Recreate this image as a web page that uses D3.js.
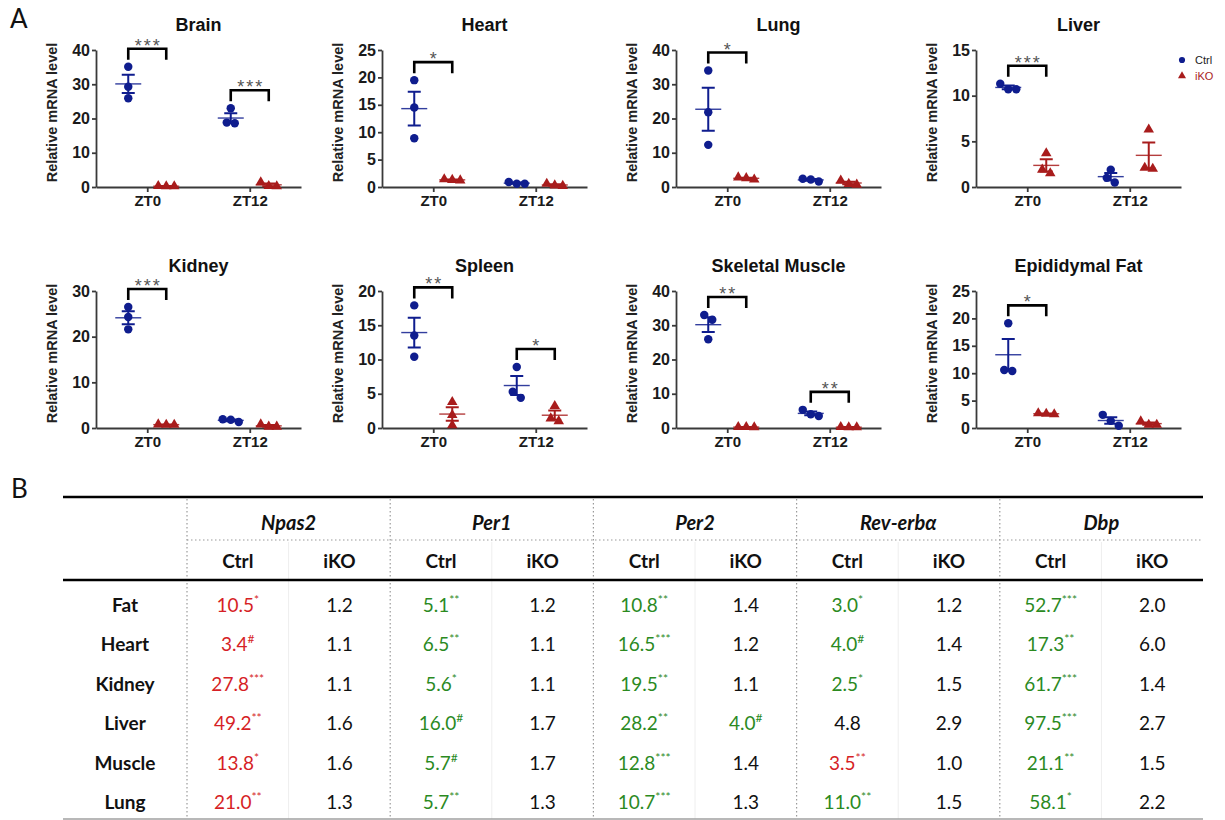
<!DOCTYPE html>
<html>
<head>
<meta charset="utf-8">
<script src="https://cdn.jsdelivr.net/npm/d3@7"></script>
<style>
body { margin: 0; background: #fff; }
svg { display: block; }
</style>
</head>
<body>
<svg id="fig" width="1225" height="820"></svg>
<script>
// ---- panel A: qPCR per tissue ----
let organs = ["Brain", "Heart", "Lung", "Liver", "Kidney", "Spleen", "Skeletal Muscle", "Epididymal Fat"]
let timepoints = ["ZT0", "ZT12"]
let groups = ["Ctrl", "iKO"]
let yMax = [40, 25, 40, 15, 30, 20, 40, 25]
let yStep = [10, 5, 10, 5, 10, 5, 10, 5]

// three mice per group, [ZT0, ZT12]
let ctrlValues = [
    [[35.1, 29.3, 25.9], [23.0, 18.8, 18.6]],
    [[19.5, 14.5, 8.9], [0.6, 0.9, 0.6]],
    [[34.0, 21.8, 12.3], [2.4, 1.6, 2.2]],
    [[11.3, 10.7, 10.7], [1.9, 1.0, 0.5]],
    [[26.5, 24.3, 21.6], [1.9, 1.3, 1.8]],
    [[17.9, 13.5, 10.4], [8.9, 5.3, 4.4]],
    [[33.0, 31.6, 25.9], [5.3, 3.5, 4.0]],
    [[19.1, 10.6, 10.4], [2.4, 1.3, 0.4]]
]
let ikoValues = [
    [[0.2, 0.2, 0.3], [1.4, 0.3, 0.2]],
    [[1.3, 1.4, 1.2], [0.6, 0.3, 0.2]],
    [[2.8, 2.2, 2.6], [1.9, 0.9, 0.7]],
    [[3.7, 1.9, 1.5], [6.3, 2.0, 2.1]],
    [[0.8, 0.7, 0.7], [0.8, 0.3, 0.3]],
    [[3.8, 1.9, 0.4], [3.2, 1.4, 1.0]],
    [[0.3, 0.2, 0.3], [0.3, 0.2, 0.2]],
    [[2.6, 2.7, 2.5], [1.2, 0.6, 0.6]]
]
let sigMarks = [
    ["***", "***"], ["*", ""], ["*", ""], ["***", ""],
    ["***", ""], ["**", "*"], ["**", "**"], ["*", ""]
]

// ---- panel B: fold change table ----
let tissues = ["Fat", "Heart", "Kidney", "Liver", "Muscle", "Lung"]
let genes = ["Npas2", "Per1", "Per2", "Rev-erbα", "Dbp"]
let ctrlFold = [
    ["10.5*", "3.4#", "27.8***", "49.2**", "13.8*", "21.0**"],
    ["5.1**", "6.5**", "5.6*", "16.0#", "5.7#", "5.7**"],
    ["10.8**", "16.5***", "19.5**", "28.2**", "12.8***", "10.7***"],
    ["3.0*", "4.0#", "2.5*", "4.8", "3.5**", "11.0**"],
    ["52.7***", "17.3**", "61.7***", "97.5***", "21.1**", "58.1*"]
]
let ikoFold = [
    ["1.2", "1.1", "1.1", "1.6", "1.6", "1.3"],
    ["1.2", "1.1", "1.1", "1.7", "1.7", "1.3"],
    ["1.4", "1.2", "1.1", "4.0#", "1.4", "1.3"],
    ["1.2", "1.4", "1.5", "2.9", "1.0", "1.5"],
    ["2.0", "6.0", "1.4", "2.7", "1.5", "2.2"]
]
// r = up (red), g = down (green), n = not changed
let ctrlTone = [
    ["r", "r", "r", "r", "r", "r"],
    ["g", "g", "g", "g", "g", "g"],
    ["g", "g", "g", "g", "g", "g"],
    ["g", "g", "g", "n", "r", "g"],
    ["g", "g", "g", "g", "g", "g"]
]
let ikoTone = [
    ["n", "n", "n", "n", "n", "n"],
    ["n", "n", "n", "n", "n", "n"],
    ["n", "n", "n", "g", "n", "n"],
    ["n", "n", "n", "n", "n", "n"],
    ["n", "n", "n", "n", "n", "n"]
]

let blue = '#0f1d8e'
let red = '#a81c1c'
let toneColor = { r: '#d61f26', g: '#2b8a1f', n: '#111' }
let chartFont = '"Liberation Sans", Arial, sans-serif'
let tableFont = 'Lato, "Open Sans", sans-serif'

let svg = d3.select('#fig')

let colLeft = [96, 382, 676, 976]
let rowTop = [50, 291]
let plotW = 205
let plotH = 137

// spread points sideways when they would overlap
let dodge = (vals, y) => {
    let order = vals.map((v, k) => k).sort((a, b) => vals[b] - vals[a])
    let offs = vals.map(() => 0)
    let cluster = [order[0]]
    let flush = () => {
        cluster.forEach((k, j) => { offs[k] = (j - (cluster.length - 1) / 2) * 8 })
    }
    for (let j = 1; j < order.length; j++) {
        if (Math.abs(y(vals[order[j]]) - y(vals[order[j - 1]])) < 8) {
            cluster.push(order[j])
        } else {
            flush()
            cluster = [order[j]]
        }
    }
    flush()
    return offs
}

organs.forEach((organ, i) => {
    let left = colLeft[i % 4]
    let top = rowTop[Math.floor(i / 4)]
    let g = svg.append('g').attr('transform', 'translate(' + left + ',' + top + ')')

    let x = d3.scalePoint().domain(timepoints).range([0, plotW]).padding(0.5)
    let xg = d3.scalePoint().domain(groups).range([-19, 19])
    let y = d3.scaleLinear().domain([0, yMax[i]]).range([plotH, 0])

    // axes
    let yAxis = g.append('g')
        .call(d3.axisLeft(y)
            .tickValues(d3.range(0, yMax[i] + yStep[i] / 2, yStep[i]))
            .tickSize(4).tickSizeOuter(0).tickPadding(2))
    let xAxis = g.append('g')
        .attr('transform', 'translate(0,' + plotH + ')')
        .call(d3.axisBottom(x).tickSize(5).tickSizeOuter(0).tickPadding(3))

    yAxis.selectAll('text').style('font', 'bold 16px ' + chartFont).attr('fill', '#1a1a1a')
    xAxis.selectAll('text').style('font', 'bold 15px ' + chartFont).attr('fill', '#1a1a1a')
    g.selectAll('.domain, .tick line').attr('stroke', '#3a3a3a').attr('stroke-width', 1.8)

    g.append('text')
        .attr('x', plotW / 2)
        .attr('y', -19)
        .attr('text-anchor', 'middle')
        .style('font', 'bold 18px ' + chartFont)
        .attr('fill', '#111')
        .text(organ)

    g.append('text')
        .attr('transform', 'translate(-39,' + (plotH / 2 - 6) + ') rotate(-90)')
        .attr('text-anchor', 'middle')
        .style('font', 'bold 14.5px ' + chartFont)
        .attr('fill', '#222')
        .text('Relative mRNA level')

    timepoints.forEach((tp, t) => {
        let sets = [
            { grp: 'Ctrl', vals: ctrlValues[i][t], color: blue },
            { grp: 'iKO', vals: ikoValues[i][t], color: red }
        ]
        sets.forEach((s) => {
            let cx = x(tp) + xg(s.grp)
            let mean = d3.mean(s.vals)
            let sem = d3.deviation(s.vals) / Math.sqrt(s.vals.length)

            g.append('line')
                .attr('x1', cx - 13).attr('x2', cx + 13)
                .attr('y1', y(mean)).attr('y2', y(mean))
                .attr('stroke', s.color).attr('stroke-width', 1.4).attr('opacity', 0.85)
            g.append('path')
                .attr('d', 'M' + (cx - 6.5) + ',' + y(mean + sem) + 'H' + (cx + 6.5) +
                    'M' + cx + ',' + y(mean + sem) + 'V' + y(mean - sem) +
                    'M' + (cx - 6.5) + ',' + y(mean - sem) + 'H' + (cx + 6.5))
                .attr('fill', 'none')
                .attr('stroke', s.color).attr('stroke-width', 2)

            let offs = dodge(s.vals, y)
            let shape = s.grp === 'Ctrl' ? d3.symbolCircle : d3.symbolTriangle
            g.selectAll(null)
                .data(s.vals)
                .enter()
                .append('path')
                .attr('d', d3.symbol().type(shape).size(s.grp === 'Ctrl' ? 56 : 48))
                .attr('transform', (v, k) => 'translate(' + (cx + offs[k]) + ',' + y(v) + ')')
                .attr('fill', s.color)
        })

        let mark = sigMarks[i][t]
        if (mark) {
            let topVal = d3.max(ctrlValues[i][t].concat(ikoValues[i][t]))
            let by = y(topVal) - 18
            let x1 = x(tp) + xg('Ctrl')
            let x2 = x(tp) + xg('iKO')
            g.append('path')
                .attr('d', 'M' + x1 + ',' + (by + 11) + 'V' + by + 'H' + x2 + 'V' + (by + 11))
                .attr('fill', 'none')
                .attr('stroke', '#000')
                .attr('stroke-width', 2.6)
            g.append('text')
                .attr('x', (x1 + x2) / 2 + 1)
                .attr('y', by + 3)
                .attr('text-anchor', 'middle')
                .style('font', '18px ' + chartFont)
                .style('letter-spacing', '2px')
                .attr('fill', '#555')
                .text(mark)
        }
    })
})

// legend
let legend = svg.append('g').attr('transform', 'translate(1182,60)')
legend.append('path').attr('d', d3.symbol().type(d3.symbolCircle).size(30)).attr('fill', blue)
legend.append('path').attr('d', d3.symbol().type(d3.symbolTriangle).size(28))
    .attr('transform', 'translate(0,16)').attr('fill', red)
legend.append('text').attr('x', 13).attr('y', 4).style('font', '11px ' + chartFont).attr('fill', '#222').text('Ctrl')
legend.append('text').attr('x', 13).attr('y', 20).style('font', '11px ' + chartFont).attr('fill', red).text('iKO')

// panel letters
svg.append('text').attr('x', 10).attr('y', 28).style('font', '26px ' + tableFont).attr('fill', '#111').text('A')
svg.append('text').attr('x', 11).attr('y', 498).style('font', '26px ' + tableFont).attr('fill', '#111').text('B')

// ---- table ----
let tableLeft = 63
let tableRight = 1203
let geneX = d3.scaleBand().domain(genes).range([187, tableRight])
let subX = d3.scaleBand().domain(groups).range([0, geneX.bandwidth()])
let rowY = d3.scaleBand().domain(tissues).range([585, 822])
let tableTop = 497
let subLineY = 540
let headLineY = 580
let tableBottom = 819

let tbl = svg.append('g')

// faint lines between Ctrl and iKO columns
genes.forEach((gene) => {
    let mx = geneX(gene) + geneX.bandwidth() / 2
    tbl.append('line').attr('x1', mx).attr('x2', mx).attr('y1', subLineY + 2).attr('y2', tableBottom)
        .attr('stroke', '#eeeeee').attr('stroke-width', 1)
})
// dotted separators
genes.forEach((gene) => {
    tbl.append('line').attr('x1', geneX(gene)).attr('x2', geneX(gene))
        .attr('y1', tableTop + 2).attr('y2', tableBottom)
        .attr('stroke', '#9a9a9a').attr('stroke-width', 1.2).attr('stroke-dasharray', '1.5,2.5')
})
tbl.append('line').attr('x1', 187).attr('x2', tableRight).attr('y1', subLineY).attr('y2', subLineY)
    .attr('stroke', '#9a9a9a').attr('stroke-width', 1.2).attr('stroke-dasharray', '1.5,2.5')
tbl.append('line').attr('x1', tableLeft).attr('x2', tableRight).attr('y1', tableTop).attr('y2', tableTop)
    .attr('stroke', '#000').attr('stroke-width', 2.6)
tbl.append('line').attr('x1', tableLeft).attr('x2', tableRight).attr('y1', headLineY).attr('y2', headLineY)
    .attr('stroke', '#000').attr('stroke-width', 2.6)
tbl.append('line').attr('x1', tableLeft).attr('x2', tableRight).attr('y1', tableBottom).attr('y2', tableBottom)
    .attr('stroke', '#a0a0a0').attr('stroke-width', 1.6)

// gene headers
genes.forEach((gene) => {
    tbl.append('text')
        .attr('x', geneX(gene) + geneX.bandwidth() / 2)
        .attr('y', 530)
        .attr('text-anchor', 'middle')
        .style('font', 'italic bold 20px ' + tableFont)
        .attr('fill', '#111')
        .text(gene)
    groups.forEach((grp) => {
        tbl.append('text')
            .attr('x', geneX(gene) + subX(grp) + subX.bandwidth() / 2)
            .attr('y', 568)
            .attr('text-anchor', 'middle')
            .style('font', 'bold 19px ' + tableFont)
            .attr('fill', '#111')
            .text(grp)
    })
})

// tissue labels
tissues.forEach((tissue) => {
    tbl.append('text')
        .attr('x', 125)
        .attr('y', rowY(tissue) + rowY.bandwidth() / 2 + 7)
        .attr('text-anchor', 'middle')
        .style('font', 'bold 19px ' + tableFont)
        .attr('fill', '#111')
        .text(tissue)
})

let drawCell = (str, tone, cx, cy) => {
    let num = str.replace(/[*#]+$/, '')
    let mark = str.slice(num.length)
    let t = tbl.append('text')
        .attr('x', cx)
        .attr('y', cy)
        .attr('text-anchor', 'middle')
        .style('font', '19px ' + tableFont)
        .attr('fill', toneColor[tone])
    t.append('tspan').text(num)
    if (mark) {
        t.append('tspan').attr('dy', -8).style('font-size', '12px').text(mark)
    }
}

genes.forEach((gene, gi) => {
    tissues.forEach((tissue, ti) => {
        let cy = rowY(tissue) + rowY.bandwidth() / 2 + 7
        drawCell(ctrlFold[gi][ti], ctrlTone[gi][ti], geneX(gene) + subX('Ctrl') + subX.bandwidth() / 2, cy)
        drawCell(ikoFold[gi][ti], ikoTone[gi][ti], geneX(gene) + subX('iKO') + subX.bandwidth() / 2, cy)
    })
})
</script>
</body>
</html>
